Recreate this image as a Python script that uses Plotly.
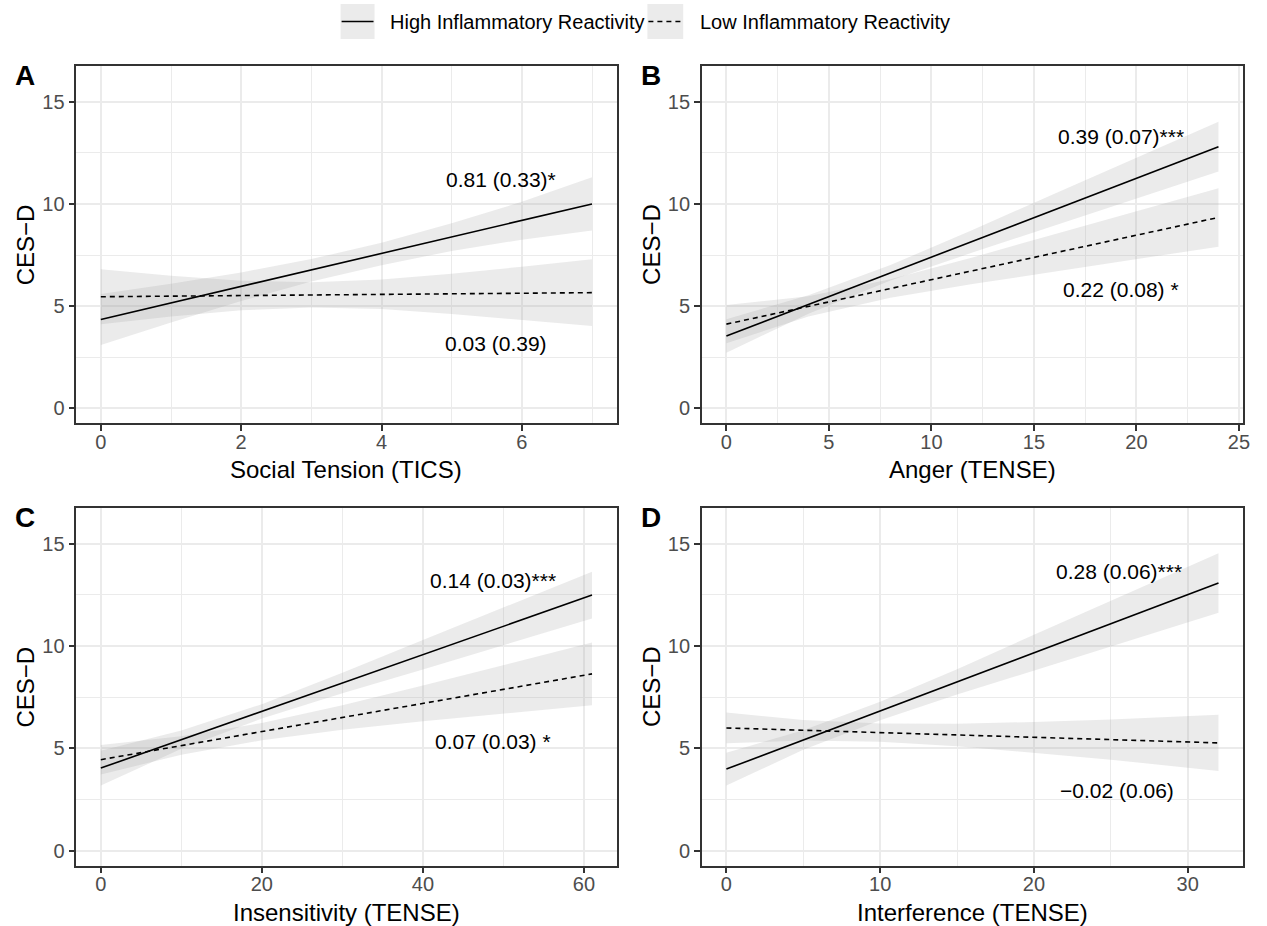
import plotly.graph_objects as go

W, H = 1267, 926
FONT = "Liberation Sans, Arial, Helvetica, sans-serif"

# ---------------- data ----------------
series_names = ["High Inflammatory Reactivity", "Low Inflammatory Reactivity"]
y_title = "CES\u2212D"
y_ticks = [0, 5, 10, 15]
y_minor = [2.5, 7.5, 12.5]

# Panel A : Social Tension (TICS)
a_title = "Social Tension (TICS)"
a_ticks = [0, 2, 4, 6]
a_minor = [1, 3, 5, 7]
a_line_x = [0, 7]
a_high_y = [4.35, 10.00]
a_low_y = [5.46, 5.66]
a_band_x = [0, 1, 2, 3, 4, 5, 6, 7]
a_high_up = [5.60, 6.10, 6.65, 7.30, 8.10, 9.05, 10.10, 11.30]
a_high_lo = [3.10, 4.20, 5.25, 6.20, 7.00, 7.70, 8.25, 8.70]
a_low_up = [6.80, 6.49, 6.24, 6.17, 6.30, 6.58, 6.93, 7.29]
a_low_lo = [4.12, 4.49, 4.80, 4.93, 4.86, 4.62, 4.33, 4.03]
a_labels = ["0.81 (0.33)*", "0.03 (0.39)"]
a_label_x = [5.70, 5.63]
a_label_y = [11.2, 3.18]

# Panel B : Anger (TENSE)
b_title = "Anger (TENSE)"
b_ticks = [0, 5, 10, 15, 20, 25]
b_minor = [2.5, 7.5, 12.5, 17.5, 22.5]
b_line_x = [0, 24]
b_high_y = [3.54, 12.80]
b_low_y = [4.12, 9.34]
b_band_x = [0, 4, 8, 12, 16, 20, 24]
b_high_up = [4.36, 5.53, 7.01, 8.72, 10.50, 12.26, 14.02]
b_high_lo = [2.72, 4.63, 6.25, 7.62, 8.94, 10.26, 11.58]
b_low_up = [5.05, 5.49, 6.31, 7.38, 8.52, 9.65, 10.77]
b_low_lo = [3.19, 4.49, 5.41, 6.08, 6.68, 7.29, 7.91]
b_labels = ["0.39 (0.07)***", "0.22 (0.08) *"]
b_label_x = [19.24, 19.24]
b_label_y = [13.32, 5.82]

# Panel C : Insensitivity (TENSE)
c_title = "Insensitivity (TENSE)"
c_ticks = [0, 20, 40, 60]
c_minor = [10, 30, 50]
c_line_x = [0, 61]
c_high_y = [4.04, 12.49]
c_low_y = [4.45, 8.64]
c_band_x = [0, 10, 20, 30, 40, 50, 61]
c_high_up = [4.89, 5.88, 7.16, 8.70, 10.30, 11.90, 13.63]
c_high_lo = [3.19, 4.98, 6.46, 7.70, 8.86, 10.04, 11.35]
c_low_up = [5.17, 5.59, 6.24, 7.11, 8.07, 9.06, 10.17]
c_low_lo = [3.73, 4.69, 5.40, 5.91, 6.33, 6.72, 7.11]
c_labels = ["0.14 (0.03)***", "0.07 (0.03) *"]
c_label_x = [48.7, 48.65]
c_label_y = [13.18, 5.35]

# Panel D : Interference (TENSE)
d_title = "Interference (TENSE)"
d_ticks = [0, 10, 20, 30]
d_minor = [5, 15, 25]
d_line_x = [0, 32]
d_high_y = [3.99, 13.08]
d_low_y = [6.00, 5.27]
d_band_x = [0, 5, 10, 15, 20, 25, 32]
d_high_up = [4.79, 5.89, 7.28, 8.87, 10.55, 12.21, 14.53]
d_high_lo = [3.19, 4.93, 6.38, 7.63, 8.79, 9.97, 11.63]
d_low_up = [6.75, 6.39, 6.22, 6.21, 6.29, 6.41, 6.64]
d_low_lo = [5.25, 5.39, 5.32, 5.11, 4.79, 4.45, 3.90]
d_labels = ["0.28 (0.06)***", "\u22120.02 (0.06)"]
d_label_x = [25.5, 25.37]
d_label_y = [13.62, 2.94]

# ---------------- layout geometry (pixels) ----------------
panels = [
    dict(tag="A", box=(76.7, 620.0, 65.7, 423.3), xr=[-0.35, 7.35], title=a_title, ticks=a_ticks, minor=a_minor,
         lx=a_line_x, hy=a_high_y, ly=a_low_y, bx=a_band_x, hu=a_high_up, hl=a_high_lo, lu=a_low_up, ll=a_low_lo,
         labels=a_labels, labx=a_label_x, laby=a_label_y),
    dict(tag="B", box=(705.7, 1250.0, 65.7, 423.3), xr=[-1.2, 25.2], title=b_title, ticks=b_ticks, minor=b_minor,
         lx=b_line_x, hy=b_high_y, ly=b_low_y, bx=b_band_x, hu=b_high_up, hl=b_high_lo, lu=b_low_up, ll=b_low_lo,
         labels=b_labels, labx=b_label_x, laby=b_label_y),
    dict(tag="C", box=(76.7, 620.0, 507.7, 865.7), xr=[-3.05, 64.05], title=c_title, ticks=c_ticks, minor=c_minor,
         lx=c_line_x, hy=c_high_y, ly=c_low_y, bx=c_band_x, hu=c_high_up, hl=c_high_lo, lu=c_low_up, ll=c_low_lo,
         labels=c_labels, labx=c_label_x, laby=c_label_y),
    dict(tag="D", box=(705.7, 1250.0, 507.7, 865.7), xr=[-1.6, 33.6], title=d_title, ticks=d_ticks, minor=d_minor,
         lx=d_line_x, hy=d_high_y, ly=d_low_y, bx=d_band_x, hu=d_high_up, hl=d_high_lo, lu=d_low_up, ll=d_low_lo,
         labels=d_labels, labx=d_label_x, laby=d_label_y),
]
Y_RANGE = [-0.73, 16.76]

RIBBON = "rgba(153,153,153,0.2)"
BORDER = "#333333"
GRID = "#EBEBEB"


def px(x):
    return x / W


def py(y):
    return 1 - y / H


fig = go.Figure()
annotations = []
shapes = []

for i, p in enumerate(panels):
    n = "" if i == 0 else str(i + 1)
    xa, ya = "x" + n, "y" + n
    # ribbons
    for up, lo in ((p["hu"], p["hl"]), (p["lu"], p["ll"])):
        fig.add_trace(go.Scatter(
            x=p["bx"] + p["bx"][::-1], y=up + lo[::-1], fill="toself", fillcolor=RIBBON,
            line=dict(width=0), mode="lines", hoverinfo="skip", showlegend=False, xaxis=xa, yaxis=ya))
    # lines
    fig.add_trace(go.Scatter(x=p["lx"], y=p["hy"], mode="lines", name=series_names[0],
                             line=dict(color="black", width=1.6), showlegend=False, xaxis=xa, yaxis=ya))
    fig.add_trace(go.Scatter(x=p["lx"], y=p["ly"], mode="lines", name=series_names[1],
                             line=dict(color="black", width=1.6, dash="5px,4px"), showlegend=False,
                             xaxis=xa, yaxis=ya))

    x0, x1, y0, y1 = p["box"]
    axis_common = dict(showline=True, mirror=True, linecolor=BORDER, linewidth=1.5,
                       ticks="outside", ticklen=6, tickwidth=1.5, tickcolor=BORDER,
                       tickfont=dict(family=FONT, size=20, color="#4D4D4D"),
                       showgrid=True, gridcolor=GRID, gridwidth=1.8, zeroline=False)
    fig.layout["xaxis" + n] = dict(
        axis_common, domain=[px(x0), px(x1)], range=p["xr"], anchor=ya, ticklabelstandoff=-6,
        tickmode="array", tickvals=p["ticks"], ticktext=[str(t) for t in p["ticks"]],
        minor=dict(tickvals=p["minor"], showgrid=True, gridcolor=GRID, gridwidth=1, ticks=""))
    fig.layout["yaxis" + n] = dict(
        axis_common, domain=[py(y1), py(y0)], range=Y_RANGE, anchor=xa,
        tickmode="array", tickvals=y_ticks, ticktext=[str(t) for t in y_ticks],
        minor=dict(tickvals=y_minor, showgrid=True, gridcolor=GRID, gridwidth=1, ticks=""))

    # coefficient labels
    for t, lx_, ly_ in zip(p["labels"], p["labx"], p["laby"]):
        annotations.append(dict(text=t, x=lx_, y=ly_, xref=xa, yref=ya, showarrow=False,
                                xanchor="center", yanchor="middle",
                                font=dict(family=FONT, size=21, color="black")))
    # axis titles
    annotations.append(dict(text=p["title"], x=px((x0 + x1) / 2), y=py(y1 + 46.5), xref="paper", yref="paper",
                            showarrow=False, xanchor="center", yanchor="middle",
                            font=dict(family=FONT, size=24, color="black")))
    annotations.append(dict(text=y_title, x=px(x0 - 50.7), y=py((y0 + y1) / 2), xref="paper", yref="paper",
                            showarrow=False, xanchor="center", yanchor="middle", textangle=-90,
                            font=dict(family=FONT, size=24, color="black")))
    # panel tag
    annotations.append(dict(text="<b>" + p["tag"] + "</b>", x=px(x0 - 51.5), y=py(y0 + 10), xref="paper",
                            yref="paper", showarrow=False, xanchor="center", yanchor="middle",
                            font=dict(family=FONT, size=28, color="black")))

# ---------------- manual legend ----------------
legend_keys = [(342.5, 376.6, 390.0, None), (651.0, 687.0, 702.0, "5px,4px")]
for (kx0, kx1, tx, dash), name in zip(legend_keys, series_names):
    shapes.append(dict(type="rect", xref="paper", yref="paper", x0=px(kx0), x1=px(kx1), y0=py(39), y1=py(4),
                       fillcolor=RIBBON, line=dict(width=0), layer="above"))
    shapes.append(dict(type="line", xref="paper", yref="paper", x0=px(kx0 + 1), x1=px(kx1 - 1), y0=py(21.5),
                       y1=py(21.5), line=dict(color="black", width=1.6, dash=dash if dash else "solid")))
    annotations.append(dict(text=name, x=px(tx), y=py(22), xref="paper", yref="paper", showarrow=False,
                            xanchor="left", yanchor="middle", font=dict(family=FONT, size=20, color="black")))

fig.update_layout(width=W, height=H, margin=dict(l=0, r=0, t=0, b=0), paper_bgcolor="white",
                  plot_bgcolor="white", showlegend=False, annotations=annotations, shapes=shapes,
                  font=dict(family=FONT))

fig.write_html("out.html")
